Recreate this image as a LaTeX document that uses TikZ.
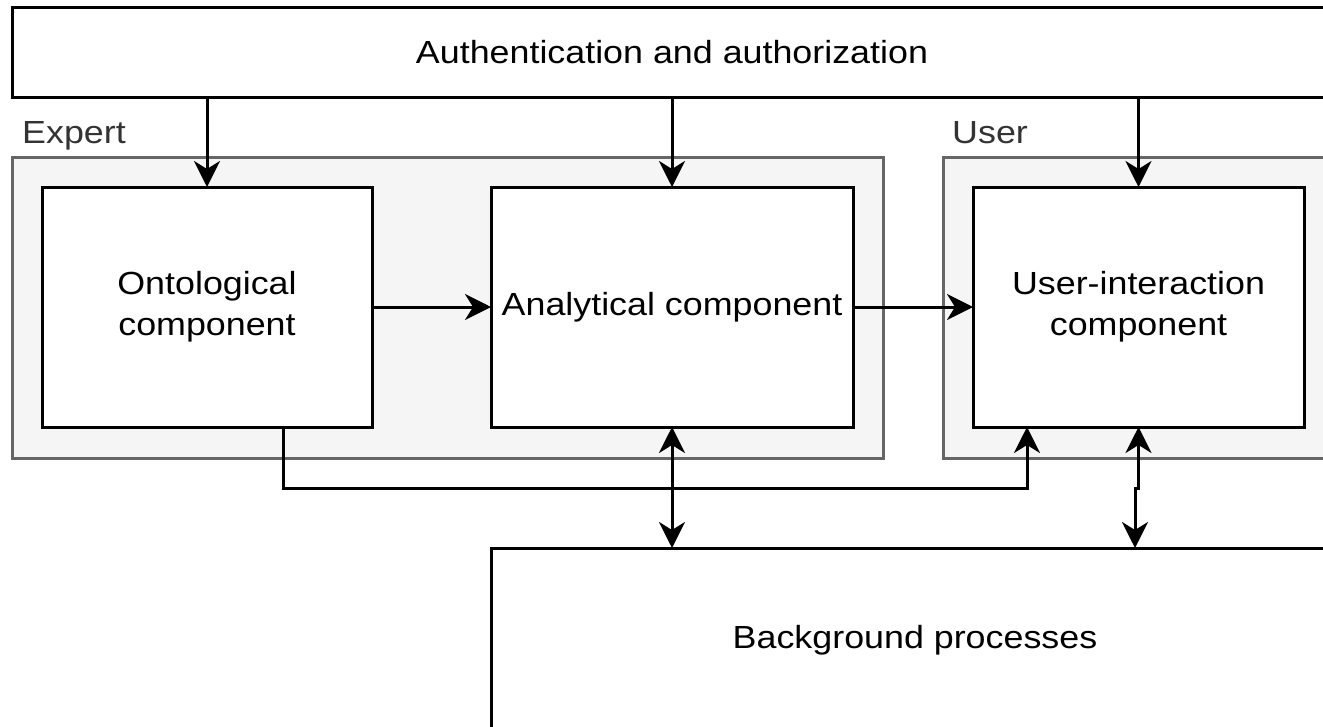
\documentclass[tikz,border=0pt]{standalone}
\usepackage{fontspec}
\setmainfont[FakeStretch=1.12]{Liberation Sans}
\usetikzlibrary{arrows.meta}
\definecolor{groupfill}{HTML}{F5F5F5}
\definecolor{groupline}{HTML}{666666}
\definecolor{grouptext}{HTML}{333333}
\begin{document}
\begin{tikzpicture}[x=1pt,y=-1pt,
  font=\fontsize{32}{41}\selectfont,
  box/.style={draw=black,fill=white,line width=3pt,inner sep=0pt,outer sep=0pt,
    align=center,rectangle},
  group/.style={draw=groupline,fill=groupfill,line width=3pt,inner sep=0pt,outer sep=0pt,rectangle},
  grouplabel/.style={text=grouptext,anchor=base west,inner sep=0pt},
  tipx/.tip={Stealth[length=26pt,width=26pt,inset=8pt]},
  arr/.style={line width=3pt,-tipx},
  darr/.style={line width=3pt,tipx-tipx}]
\useasboundingbox (0,0) rectangle (1323,726);
\clip (0,0) rectangle (1323,726);
\fill[white] (0,0) rectangle (1323,726);

% groups
\node[group,minimum width=871pt,minimum height=301pt] (expert) at (447.5,307.5) {};
\node[group,minimum width=391pt,minimum height=301pt] (user) at (1138.5,307.5) {};
\node[grouplabel] (expertlbl) at (22,143) {Expert};
\node[grouplabel] (userlbl) at (952,143) {User};

% blocks
\node[box,minimum width=1320pt,minimum height=90pt] (auth) at (672,52) {Authentication and authorization};
\node[box,minimum width=330pt,minimum height=240pt] (ont) at (207,307) {Ontological\\component};
\node[box,minimum width=362pt,minimum height=240pt] (ana) at (672,307) {Analytical component};
\node[box,minimum width=331pt,minimum height=240pt] (ui) at (1138.5,307) {User-interaction\\component};
\node[box,minimum width=848pt,minimum height=184pt] (bg) at (915,640) {Background processes};

% connectors
\draw[arr] (ont.north |- auth.south) -- (ont.north);
\draw[arr] (ana.north |- auth.south) -- (ana.north);
\draw[arr] (ui.north |- auth.south) -- (ui.north);
\draw[arr] (ont.east) -- (ana.west);
\draw[arr] (ana.east) -- (ui.west);
\draw[arr] ([xshift=76pt]ont.south) -- ++(0,61) -| ([xshift=-111.5pt]ui.south);
\draw[darr] (ana.south) -- (ana.south |- bg.north);
\draw[darr] (ui.south) -- ++(0,61) -- ++(-3.5,0) -- ++(0,60);
\end{tikzpicture}
\end{document}
